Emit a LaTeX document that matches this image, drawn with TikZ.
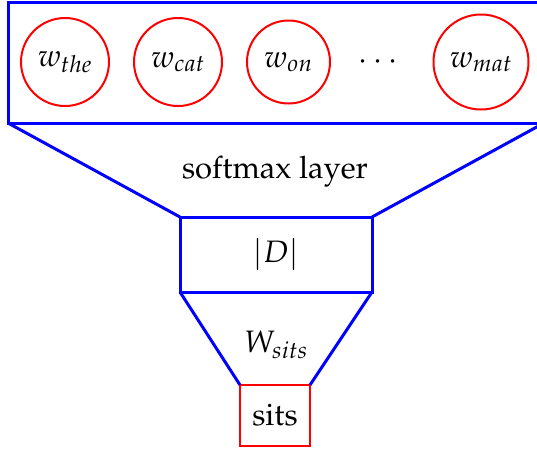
\documentclass[tikz,border=0pt]{standalone}
\usepackage[T1]{fontenc}
\usepackage{mathpazo}
\begin{document}
\begin{tikzpicture}[x=1pt,y=-1pt,
  font=\fontsize{31}{37}\selectfont,
  bluebox/.style={draw=blue, line width=3pt, outer sep=0pt, inner sep=0pt},
  blueline/.style={blue, line width=3pt},
  wordnode/.style={draw=red, line width=2pt, circle, inner sep=0pt, outer sep=0pt},
  redbox/.style={draw=red, line width=2pt, outer sep=0pt, inner sep=0pt},
  lbl/.style={inner sep=0pt}]
\useasboundingbox (0,0) rectangle (537,451);
\clip (0,0) rectangle (537,451);
\node[bluebox, minimum width=536pt, minimum height=121pt] (top) at (276,62.5) {};
\node[wordnode, minimum size=88pt] (wthe) at (65,62) {$w_{the}$};
\node[wordnode, minimum size=88pt] (wcat) at (178,62) {$w_{cat}$};
\node[wordnode, minimum size=83pt] (won) at (288.5,62) {$w_{on}$};
\node[lbl] (dots) at (378,62) {$\cdots$};
\node[wordnode, minimum size=95pt] (wmat) at (481,62) {$w_{mat}$};
\node[lbl] (soft) at (275,172) {softmax layer};
\node[bluebox, minimum width=192pt, minimum height=75pt] (D) at (276,254.5) {$|D|$};
\node[lbl] (W) at (276,345) {$W_{sits}$};
\node[redbox, minimum width=70pt, minimum height=61pt] (sits) at (275,415.5) {sits};
\draw[blueline] (top.south west) -- (D.north west);
\draw[blueline] (top.south east) -- (D.north east);
\draw[blueline] (D.south west) -- (sits.north west);
\draw[blueline] (D.south east) -- (sits.north east);
\end{tikzpicture}
\end{document}
